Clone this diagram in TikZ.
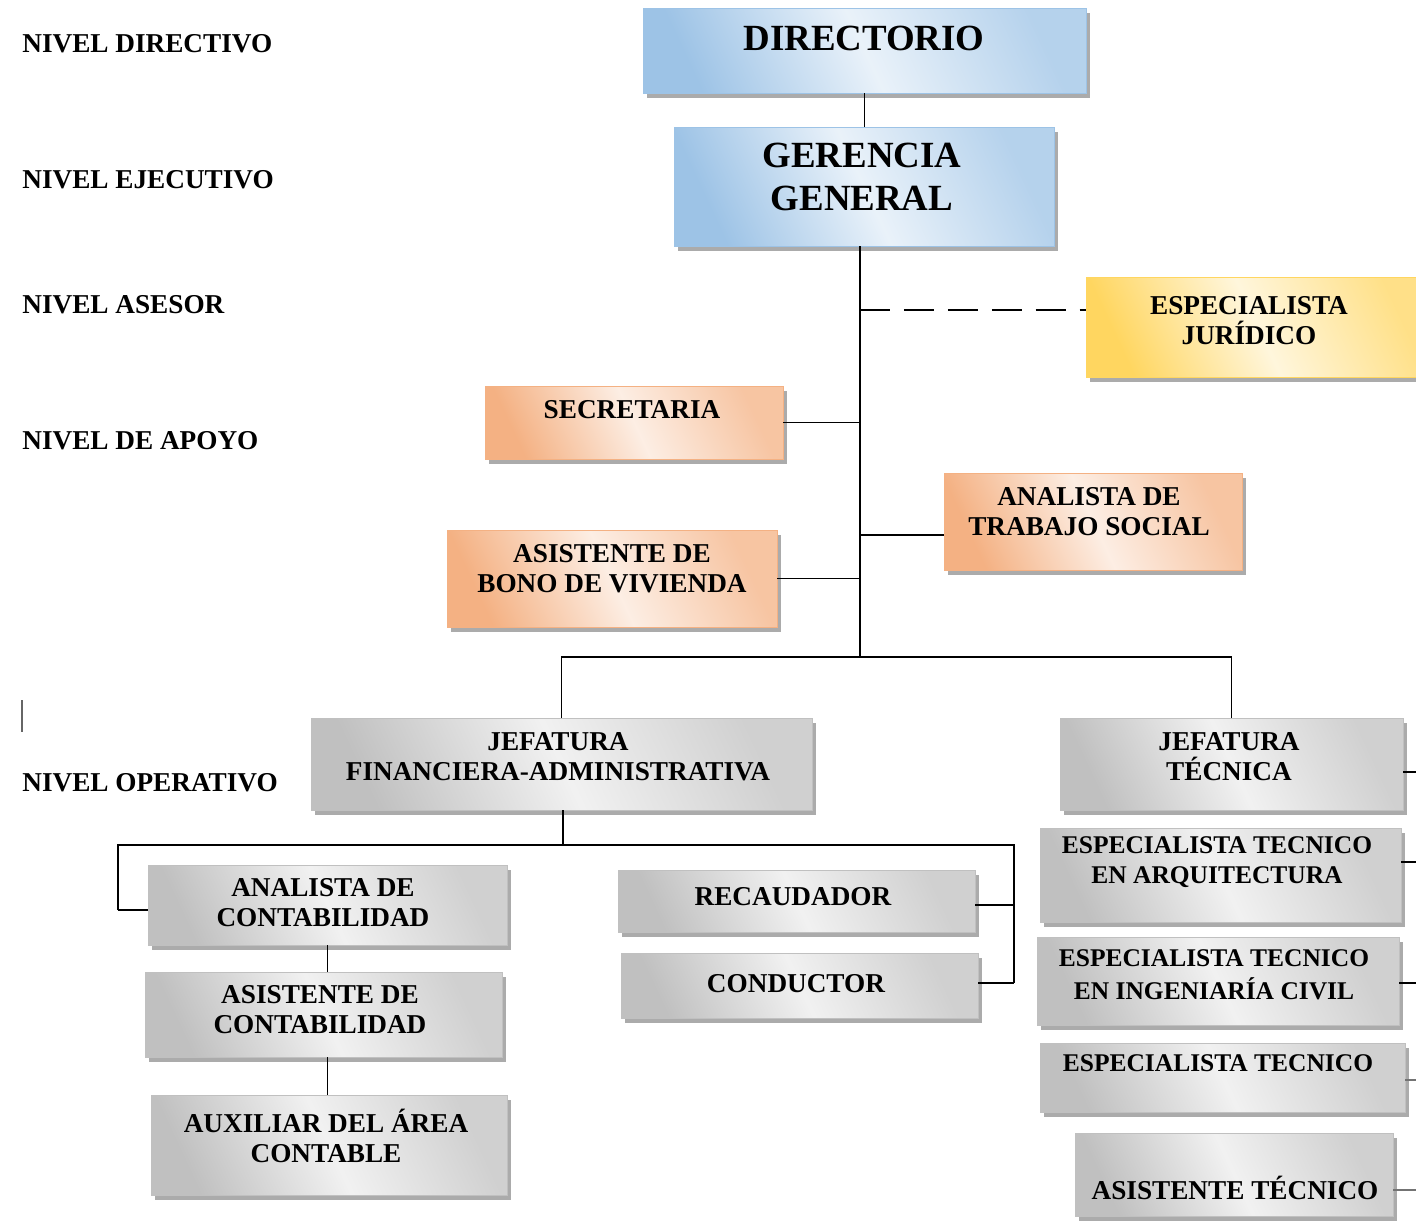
\documentclass[tikz,border=0pt]{standalone}
\usepackage{fontspec}
\setmainfont{Liberation Serif}
\usetikzlibrary{fit,shadows}
\definecolor{azul}{RGB}{157,195,230}
\definecolor{naranja}{RGB}{244,177,131}
\definecolor{amarillo}{RGB}{255,214,96}
\definecolor{gris}{RGB}{192,192,192}
\begin{document}
\begin{tikzpicture}[x=0.02cm,y=-0.02cm,
        caja/.style={inner sep=0pt, draw=#1, left color=#1, right color=#1!75!white, middle color=#1!22!white, shading angle=115,
            drop shadow={shadow xshift=2.4pt, shadow yshift=-2.6pt, fill=black!55, opacity=.6}},
        txt/.style={align=center, inner sep=0pt, font=\bfseries\fontsize{15.5}{17}\selectfont},
        nivel/.style={anchor=west, inner sep=0pt, font=\bfseries\fontsize{15.5}{17}\selectfont},
        linea/.style={line width=1.1pt}]
    \clip (0,0) rectangle (1416,1221);
    \useasboundingbox (0,0) rectangle (1416,1221);
    \node[nivel] (ndir) at (22,44) {NIVEL DIRECTIVO};
    \node[nivel] (neje) at (22,180) {NIVEL EJECUTIVO};
    \node[nivel] (nase) at (22,305) {NIVEL ASESOR};
    \node[nivel] (napo) at (22,441) {NIVEL DE APOYO};
    \node[nivel] (nope) at (22,783) {NIVEL OPERATIVO};
    \draw[black!60, line width=1pt] (22,700) -- (22,732);

    \node[caja=azul, fit={(643,8) (1086,93)}] (dir) {};
    \node[caja=azul, fit={(674,127) (1054,246)}] (ger) {};
    \node[caja=amarillo, fit={(1086,277) (1430,377)}] (jur) {};
    \node[caja=naranja, fit={(485,386) (783,459)}] (sec) {};
    \node[caja=naranja, fit={(944,473) (1242,570)}] (trs) {};
    \node[caja=naranja, fit={(447,530) (777,627)}] (bon) {};
    \node[caja=gris, fit={(311,718) (812,810)}] (jfa) {};
    \node[caja=gris, fit={(1060,718) (1403,810)}] (jte) {};
    \node[caja=gris, fit={(148,865) (507,945)}] (anc) {};
    \node[caja=gris, fit={(145,972) (502,1057)}] (asc) {};
    \node[caja=gris, fit={(151,1095) (507,1195)}] (aux) {};
    \node[caja=gris, fit={(618,870) (975,932)}] (rec) {};
    \node[caja=gris, fit={(621,953) (978,1018)}] (con) {};
    \node[caja=gris, fit={(1040,828) (1401,922)}] (arq) {};
    \node[caja=gris, fit={(1037,937) (1399,1025)}] (civ) {};
    \node[caja=gris, fit={(1040,1043) (1405,1112)}] (est) {};
    \node[caja=gris, fit={(1075,1133) (1393,1216)}] (ast) {};

    \node[txt, font=\bfseries\fontsize{21}{24}\selectfont] (dir-t) at (864,38) {DIRECTORIO};
    \node[txt, font=\bfseries\fontsize{21}{24}\selectfont] (ger-t) at (862,177) {GERENCIA\\GENERAL};
    \node[txt] (jur-t) at (1249,321) {ESPECIALISTA\\JURÍDICO};
    \node[txt] (sec-t) at (632,410) {SECRETARIA};
    \node[txt] (trs-t) at (1089,512) {ANALISTA DE\\TRABAJO SOCIAL};
    \node[txt] (bon-t) at (612,569) {ASISTENTE DE\\BONO DE VIVIENDA};
    \node[txt] (jfa-t) at (558,757) {JEFATURA\\FINANCIERA-ADMINISTRATIVA};
    \node[txt] (jte-t) at (1229,757) {JEFATURA\\TÉCNICA};
    \node[txt] (anc-t) at (323,903) {ANALISTA DE\\CONTABILIDAD};
    \node[txt] (asc-t) at (320,1010) {ASISTENTE DE\\CONTABILIDAD};
    \node[txt] (aux-t) at (326,1136) {AUXILIAR DEL ÁREA\\CONTABLE};
    \node[txt] (rec-t) at (793,897) {RECAUDADOR};
    \node[txt] (con-t) at (796,984) {CONDUCTOR};
    \node[txt, font=\bfseries\fontsize{14.5}{17}\selectfont] (arq-t) at (1217,862) {ESPECIALISTA TECNICO\\EN ARQUITECTURA};
    \node[txt, font=\bfseries\fontsize{14.5}{19}\selectfont] (civ-t) at (1214,975) {ESPECIALISTA TECNICO\\EN INGENIARÍA CIVIL};
    \node[txt, font=\bfseries\fontsize{14.5}{17}\selectfont] (est-t) at (1218,1063) {ESPECIALISTA TECNICO};
    \node[txt] (ast-t) at (1235,1188) {ASISTENTE TÉCNICO};

    \coordinate (eje) at (860,246);
    \coordinate (bus) at (860,657);
    \coordinate (bar) at (563,845);
    \draw[linea] (dir.south) -- (dir.south |- ger.north)
        (eje) -- (bus)
        (sec.east) -- (sec.east -| eje)
        (bon.east) -- (bon.east -| eje)
        (eje |- 0,535) -- (trs.west |- 0,535)
        (jfa.north) -- (jfa.north |- bus) -- (jte.north |- bus) -- (jte.north)
        (jfa.south -| bar) -- (bar)
        (118,910) -- (118,845) -- (1014,845) -- (1014,983)
        (118,910) -- (anc.west |- 0,910)
        (rec.east |- 0,905) -- (1014,905)
        (con.east |- 0,983) -- (1014,983)
        (anc.south) -- (anc.south |- asc.north)
        (asc.south -| anc.south) -- (anc.south |- aux.north);
    \draw[linea, dash pattern=on 17pt off 8pt] (eje |- 0,310) -- (jur.west |- 0,310);
    \draw[linea] (jte.east |- 0,772) -- (1416,772)
        (arq.east |- 0,862) -- (1416,862)
        (civ.east |- 0,983) -- (1416,983);
    \draw[linea, black!55] (est.east |- 0,1080) -- (1416,1080)
        (ast.east |- 0,1190) -- (1416,1190);
\end{tikzpicture}
\end{document}
